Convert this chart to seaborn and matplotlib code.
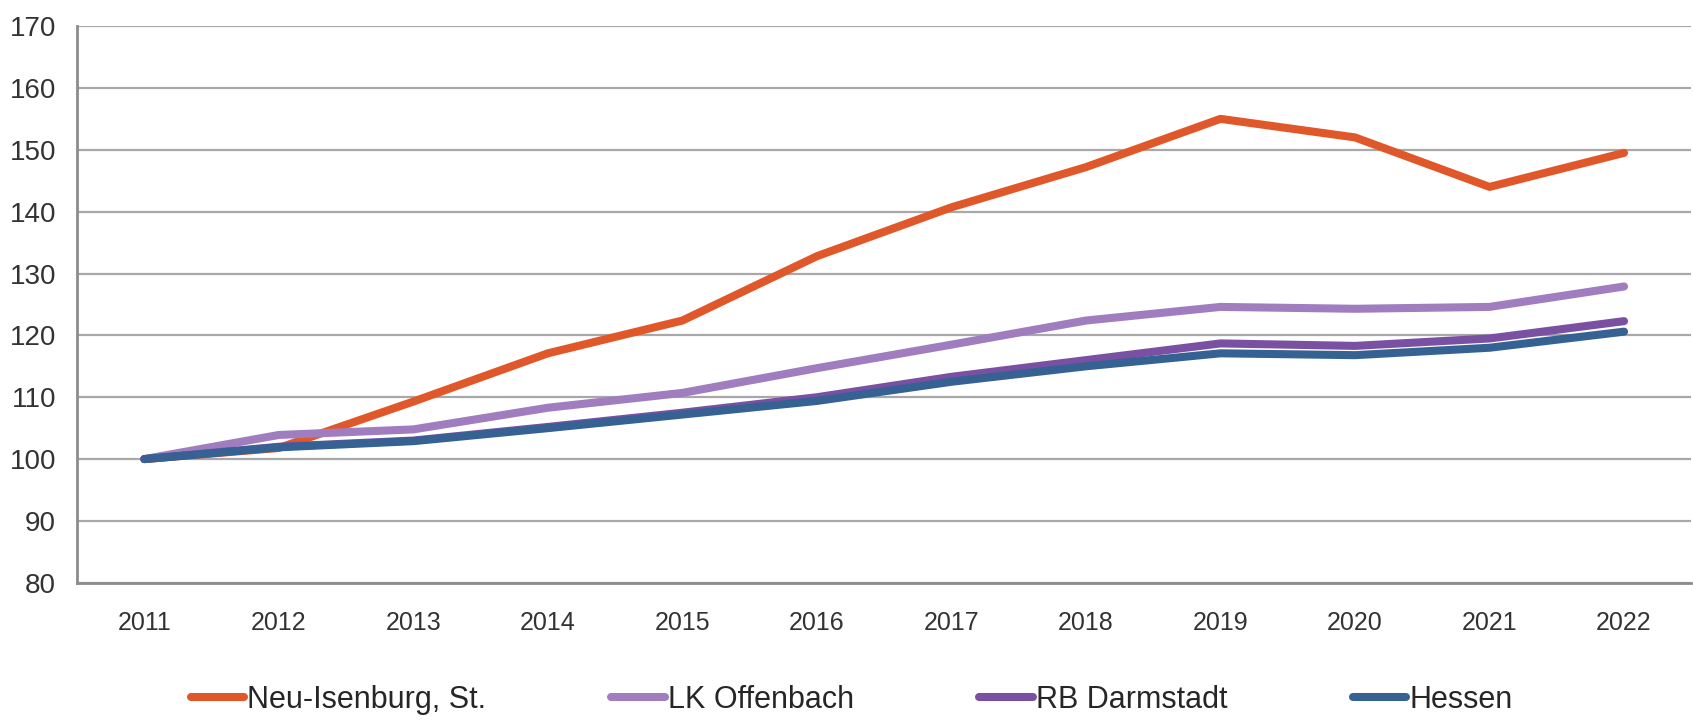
import matplotlib
matplotlib.use("Agg")
import matplotlib.pyplot as plt
import seaborn as sns
import pandas as pd

years = [2011, 2012, 2013, 2014, 2015, 2016, 2017, 2018, 2019, 2020, 2021, 2022]
neu_isenburg = [100, 101.8, 109.3, 117.1, 122.4, 132.8, 140.7, 147.2, 155.0, 152.0, 144.0, 149.5]
lk_offenbach = [100, 103.9, 104.8, 108.3, 110.7, 114.7, 118.5, 122.4, 124.6, 124.3, 124.6, 127.9]
rb_darmstadt = [100, 102.0, 103.0, 105.2, 107.5, 110.0, 113.3, 116.0, 118.7, 118.3, 119.5, 122.3]
hessen = [100, 101.9, 102.9, 105.0, 107.2, 109.4, 112.5, 115.0, 117.1, 116.8, 118.0, 120.6]

names = ["Neu-Isenburg, St.", "LK Offenbach", "RB Darmstadt", "Hessen"]
colors = ["#e0582a", "#9f7dbf", "#7a50a3", "#356193"]

df = pd.DataFrame({
    "Jahr": years * 4,
    "Wert": neu_isenburg + lk_offenbach + rb_darmstadt + hessen,
    "Region": [n for n in names for _ in years],
})

sns.set_style("white")
plt.rcParams["font.family"] = ["Liberation Sans", "DejaVu Sans"]

fig = plt.figure(figsize=(16.93, 7.24), dpi=100)
ax = fig.add_axes([0.0455, 0.195, 0.9535, 0.769])

sns.lineplot(data=df, x="Jahr", y="Wert", hue="Region", hue_order=names,
             palette=colors, linewidth=5.8, ax=ax, legend=False)
for line in ax.lines:
    line.set_solid_capstyle("round")

ax.set_xlim(2010.5, 2022.5)
ax.set_ylim(80, 170)
ax.set_yticks(range(80, 171, 10))
ax.set_xticks([y - 0.5 for y in years] + [2022.5])
ax.set_xticklabels([])
ax.set_xticks(years, minor=True)
ax.set_xticklabels([str(y) for y in years], minor=True)
ax.tick_params(axis="x", which="minor", length=0, pad=20, labelsize=18, labelcolor="#333333")
ax.tick_params(axis="x", which="major", length=9, width=2, color="#8c8c8c", direction="out")
ax.tick_params(axis="y", length=9, width=2, color="#8c8c8c", direction="out",
               labelsize=20, labelcolor="#333333", pad=6)

ax.yaxis.grid(True, color="#a8a8a8", linewidth=1.6)
ax.set_axisbelow(True)
ax.set_xlabel("")
ax.set_ylabel("")
for side in ["top", "right"]:
    ax.spines[side].set_visible(False)
for side in ["left", "bottom"]:
    ax.spines[side].set_color("#8c8c8c")
    ax.spines[side].set_linewidth(2)

handles = ax.lines[:4]
fig.legend(handles, names, loc="center", bbox_to_anchor=(0.503, 0.033), ncol=4,
           frameon=False, fontsize=22, handlelength=1.75, handletextpad=0.1,
           columnspacing=4.1)

fig.savefig("out.png", dpi=100)
